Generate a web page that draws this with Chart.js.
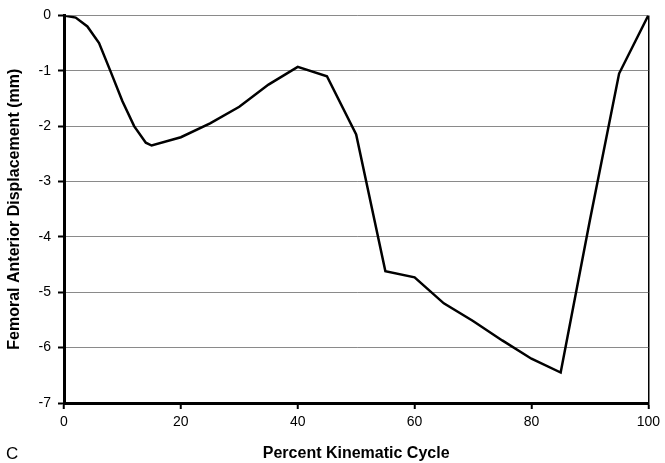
<!DOCTYPE html>
<html>
<head>
<meta charset="utf-8">
<script src="https://cdn.jsdelivr.net/npm/chart.js@4.4.0/dist/chart.umd.min.js"></script>
<style>
  html, body { margin: 0; padding: 0; background: #fff; }
  #wrap { width: 665px; height: 463px; position: relative; }
</style>
</head>
<body>
<div id="wrap"><canvas id="c" width="665" height="463"></canvas></div>
<script>
// ---- data ----
const cyclePercent = [0, 2, 4, 6, 8, 10, 12, 14, 15, 20, 25, 30, 35, 40, 45, 50, 55, 60, 65, 70, 75, 80, 85, 90, 95, 100];
const displacement = [0, -0.04, -0.2, -0.5, -1.02, -1.55, -2.0, -2.3, -2.35, -2.2, -1.95, -1.65, -1.25, -0.93, -1.1, -2.15, -4.62, -4.73, -5.2, -5.52, -5.87, -6.2, -6.45, -3.7, -1.05, 0];
const xTickValues = [0, 20, 40, 60, 80, 100];
const yTickValues = [0, -1, -2, -3, -4, -5, -6, -7];
const xTitle = 'Percent Kinematic Cycle';
const yTitle = 'Femoral Anterior Displacement (mm)';
const panelLetter = 'C';

const points = cyclePercent.map((x, i) => ({ x: x, y: displacement[i] }));

const panelLabel = {
  id: 'panelLabel',
  afterDraw(chart) {
    const ctx = chart.ctx;
    ctx.save();
    ctx.font = '17px "Liberation Sans", Arial, sans-serif';
    ctx.fillStyle = '#000';
    ctx.textBaseline = 'middle';
    ctx.textAlign = 'left';
    ctx.fillText(panelLetter, 6, 454);
    ctx.restore();
  }
};

const font = { family: '"Liberation Sans", Arial, sans-serif', size: 14 };
const titleFont = { family: '"Liberation Sans", Arial, sans-serif', size: 16, weight: 'bold' };

new Chart(document.getElementById('c'), {
  type: 'line',
  data: {
    datasets: [{
      data: points,
      borderColor: '#000',
      borderWidth: 2.5,
      pointRadius: 0,
      tension: 0,
      fill: false
    }]
  },
  options: {
    responsive: false,
    animation: false,
    layout: { padding: { top: 14, right: 13, left: 0, bottom: 0 } },
    plugins: { legend: { display: false }, tooltip: { enabled: false } },
    scales: {
      x: {
        type: 'linear',
        min: 0, max: 100,
        afterBuildTicks(scale) { scale.ticks = xTickValues.map(v => ({ value: v })); },
        afterFit(scale) { scale.height = 60; },
        ticks: { color: '#000', font: font, padding: 5, maxRotation: 0 },
        grid: {
          drawOnChartArea: true,
          color: ctx => (ctx.tick && ctx.tick.value === 100) ? '#000' : 'rgba(0,0,0,0)',
          tickColor: '#000',
          tickLength: 6,
          lineWidth: 1.5,
          tickWidth: 2
        },
        border: { color: '#000', width: 3 },
        title: {
          display: true, text: xTitle, color: '#000',
          font: titleFont,
          padding: { top: 6, bottom: 0 }
        }
      },
      y: {
        min: -7, max: 0,
        afterBuildTicks(scale) { scale.ticks = yTickValues.map(v => ({ value: v })); },
        afterFit(scale) { scale.width = 64; },
        ticks: { color: '#000', font: font, padding: 7 },
        grid: {
          color: '#8a8a8a',
          lineWidth: 1,
          tickColor: '#000',
          tickLength: 6,
          tickWidth: 2
        },
        border: { color: '#000', width: 3 },
        title: {
          display: true, text: yTitle, color: '#000',
          font: titleFont,
          padding: { top: 5, bottom: 0 }
        }
      }
    }
  },
  plugins: [panelLabel]
});
</script>
</body>
</html>
